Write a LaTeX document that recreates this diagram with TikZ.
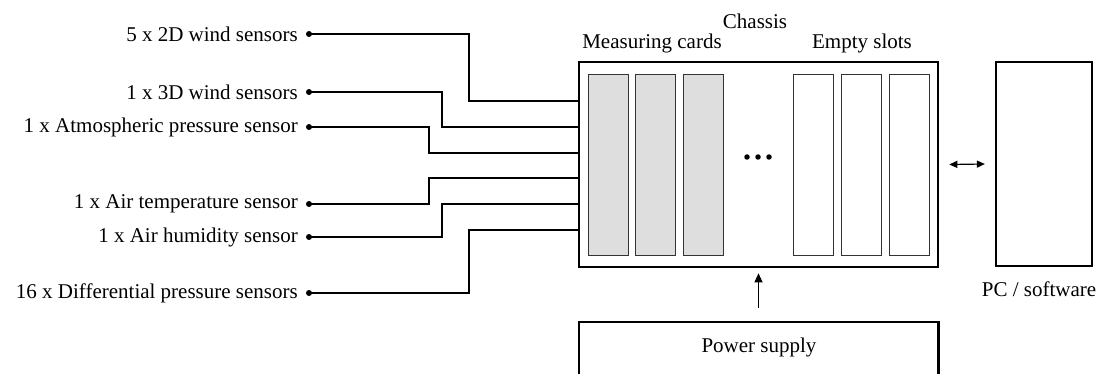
\documentclass[tikz,border=0pt]{standalone}
\usepackage{fontspec}
\setmainfont{Liberation Serif}
\usetikzlibrary{arrows.meta}
\begin{document}
\begin{tikzpicture}[x=1pt,y=-1pt,
  lbl/.style={font=\fontsize{21}{24}\selectfont, inner sep=0pt, anchor=east},
  ttl/.style={font=\fontsize{21}{24}\selectfont, inner sep=0pt},
  wire/.style={line width=1.1pt},
  dotc/.style={circle, fill=black, inner sep=0pt, minimum size=6pt},
  card/.style={draw=black!80, line width=0.9pt, minimum width=40pt, minimum height=181pt, inner sep=0pt},
  arr/.style={line width=1pt, -{Triangle[length=9pt,width=8pt]}},
  darr/.style={line width=1.2pt, {Triangle[length=8pt,width=7pt]}-{Triangle[length=8pt,width=7pt]}}]
\useasboundingbox (0,0) rectangle (1099,374);
% chassis
\node[draw, line width=2.6pt, minimum width=359pt, minimum height=205pt, inner sep=0pt] (ch) at (758.5,164.5) {};
\node[card, fill=black!13] (c1) at (608,164.5) {};
\node[card, fill=black!13] (c2) at (655,164.5) {};
\node[card, fill=black!13] (c3) at (703,164.5) {};
\node[card] (s1) at (813,164.5) {};
\node[card] (s2) at (861,164.5) {};
\node[card] (s3) at (909,164.5) {};
\foreach \xx [count=\i] in {747,758,769} \node[dotc, minimum size=5.5pt] (pd\i) at (\xx,157) {};
\node[ttl] (chl) at (755,21) {Chassis};
\node[ttl] (mcl) at (652,43) {Measuring cards};
\node[ttl] (esl) at (862,43) {Empty slots};
% PC
\node[draw, line width=2.3pt, minimum width=96pt, minimum height=204pt, inner sep=0pt] (pc) at (1044,164) {};
\node[ttl] (pcl) at (1039,289) {PC / software};
% power supply
\node[minimum width=359pt, minimum height=60pt, inner sep=0pt] (ps) at (758.5,352) {};
\draw[line width=2.6pt] (ps.south west) -- (ps.north west) -- (ps.north east) -- (ps.south east);
\node[ttl] (psl) at (759,347) {Power supply};
\draw[arr] ([yshift=14pt]ps.north) -- ([yshift=-5pt]ch.south);
\draw[darr] ([xshift=10pt]ch.east) -- ([xshift=-10pt]pc.west);
% sensors
\foreach \yy/\t/\n in {34/{5 x 2D wind sensors}/1, 92/{1 x 3D wind sensors}/2, 127/{1 x Atmospheric pressure sensor}/3, 204/{1 x Air temperature sensor}/4, 237/{1 x Air humidity sensor}/5, 293/{16 x Differential pressure sensors}/6}{
  \node[lbl] (l\n) at (298,\yy) {\t};
  \node[dotc] (d\n) at (309,\yy) {};
}
\foreach \yy [count=\i] in {101,127,153,178,204,230} \coordinate (e\i) at (ch.west |- 0,\yy);
\draw[wire] (d1.center) -- ++(160,0) |- (e1);
\draw[wire] (d2.center) -- ++(133,0) |- (e2);
\draw[wire] (d3.center) -- ++(120,0) |- (e3);
\draw[wire] (d4.center) -- ++(120,0) |- (e4);
\draw[wire] (d5.center) -- ++(133,0) |- (e5);
\draw[wire] (d6.center) -- ++(160,0) |- (e6);
\end{tikzpicture}
\end{document}
